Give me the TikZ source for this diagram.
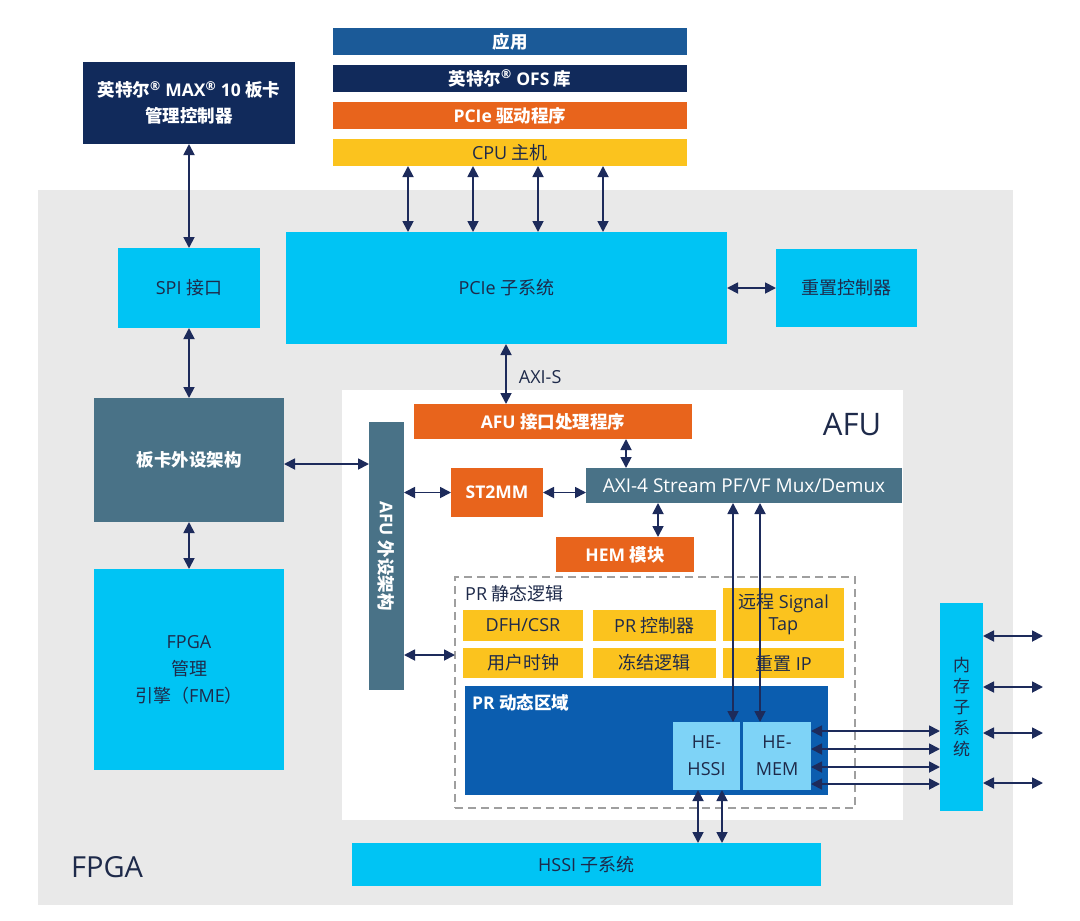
\documentclass[tikz,border=0pt]{standalone}
\usepackage{fontspec}
\setmainfont{Open Sans}
\newfontfamily\cjk{Noto Sans CJK SC}
\usetikzlibrary{arrows.meta}
\definecolor{navy}{HTML}{112A5B}
\definecolor{appblue}{HTML}{1B5A98}
\definecolor{iorange}{HTML}{E8641C}
\definecolor{iyellow}{HTML}{FBC31E}
\definecolor{icyan}{HTML}{00C4F4}
\definecolor{steel}{HTML}{497287}
\definecolor{prdblue}{HTML}{0B5DAF}
\definecolor{helight}{HTML}{7ED3F7}
\definecolor{bggray}{HTML}{E9E9E9}
\definecolor{dtext}{HTML}{1E2A4A}
\definecolor{arrowc}{HTML}{1D2B5B}
\begin{document}
\begin{tikzpicture}[x=1pt,y=-1pt,
  box/.style={draw=none,inner sep=0pt,outer sep=0pt,anchor=north west,align=center,
    font=\fontsize{18}{22}\selectfont},
  wb/.style={text=white,font=\bfseries\fontsize{17.5}{22}\selectfont},
  dk/.style={text=dtext},
  arr/.style={line width=1.8pt,draw=arrowc,
    {Triangle[width=11pt,length=11pt]}-{Triangle[width=11pt,length=11pt]}},
  lbl/.style={inner sep=0pt,text=dtext,font=\fontsize{18}{22}\selectfont}]
\useasboundingbox (0,0) rectangle (1080,921);
\fill[white] (0,0) rectangle (1080,921);
% FPGA region
\node[box,fill=bggray,minimum width=975pt,minimum height=715pt] (fpga) at (38,190) {};
\node[anchor=west,inner sep=0pt,text=dtext,font=\fontsize{29}{30}\selectfont] (fpgalbl) at (71,867) {FPGA};
% top
\node[box,wb,fill=navy,minimum width=212pt,minimum height=82pt,font=\bfseries\fontsize{17.5}{26}\selectfont] (max) at (83,62)
  {{\cjk 英特尔}\textsuperscript{®} MAX\textsuperscript{®} 10 {\cjk 板卡}\\{\cjk 管理控制器}};
\node[box,wb,fill=appblue,minimum width=354pt,minimum height=27pt] (app) at (333,28) {\cjk 应用};
\node[box,wb,fill=navy,minimum width=354pt,minimum height=27pt] (ofs) at (333,65) {{\cjk 英特尔}\textsuperscript{®} OFS {\cjk 库}};
\node[box,wb,fill=iorange,minimum width=354pt,minimum height=27pt] (drv) at (333,102) {PCIe {\cjk 驱动程序}};
\node[box,dk,fill=iyellow,minimum width=354pt,minimum height=27pt] (cpu) at (333,139) {CPU {\cjk 主机}};
% FPGA contents
\node[box,dk,fill=icyan,minimum width=441pt,minimum height=112pt] (pcie) at (286,232) {PCIe {\cjk 子系统}};
\node[box,dk,fill=icyan,minimum width=141pt,minimum height=78pt] (rst) at (776,249) {\cjk 重置控制器};
\node[box,dk,fill=icyan,minimum width=142pt,minimum height=80pt] (spi) at (118,248) {SPI {\cjk 接口}};
\node[box,wb,fill=steel,minimum width=190pt,minimum height=124pt] (board) at (94,398) {\cjk 板卡外设架构};
\node[box,dk,fill=icyan,minimum width=190pt,minimum height=201pt,font=\fontsize{18}{27}\selectfont] (fme) at (94,569)
  {FPGA\\{\cjk 管理}\\{\cjk 引擎（}FME{\cjk ）}};
% AFU
\node[box,fill=white,minimum width=561pt,minimum height=430pt] (afu) at (342,390) {};
\node[anchor=center,inner sep=0pt,text=dtext,font=\fontsize{31}{32}\selectfont] (afulbl) at (852,425) {AFU};
\node[box,wb,fill=iorange,minimum width=278pt,minimum height=35pt] (afuh) at (414,404) {AFU {\cjk 接口处理程序}};
\node[box,fill=steel,minimum width=35pt,minimum height=268pt] (afup) at (369,422) {};
\node[rotate=-90,inner sep=0pt,text=white,font=\bfseries\fontsize{17.5}{20}\selectfont] (afuptxt) at (afup.center) {AFU {\cjk 外设架构}};
\node[box,wb,fill=iorange,minimum width=92pt,minimum height=49pt] (st2mm) at (451,468) {ST2MM};
\node[box,fill=steel,text=white,minimum width=316pt,minimum height=35pt,font=\fontsize{19}{22}\selectfont] (axi) at (586,468) {AXI-4 Stream PF/VF Mux/Demux};
\node[box,wb,fill=iorange,minimum width=138pt,minimum height=35pt] (hem) at (556,537) {HEM {\cjk 模块}};
% PR static
\node[box,draw=gray!75,dashed,dash pattern=on 8pt off 5pt,line width=1.4pt,minimum width=400pt,minimum height=231pt] (prs) at (455,577) {};
\node[lbl,anchor=west] (prslbl) at (465,594) {PR {\cjk 静态逻辑}};
\node[box,dk,fill=iyellow,minimum width=120pt,minimum height=31pt] (dfh) at (463,610) {DFH/CSR};
\node[box,dk,fill=iyellow,minimum width=123pt,minimum height=31pt] (prc) at (593,610) {PR {\cjk 控制器}};
\node[box,dk,fill=iyellow,minimum width=121pt,minimum height=53pt] (stap) at (723,588) {{\cjk 远程} Signal\\Tap};
\node[box,dk,fill=iyellow,minimum width=120pt,minimum height=30pt] (uclk) at (463,648) {\cjk 用户时钟};
\node[box,dk,fill=iyellow,minimum width=123pt,minimum height=30pt] (frz) at (593,648) {\cjk 冻结逻辑};
\node[box,dk,fill=iyellow,minimum width=121pt,minimum height=30pt] (rip) at (723,648) {{\cjk 重置} IP};
\node[box,fill=prdblue,minimum width=363pt,minimum height=109pt] (prd) at (465,686) {};
\node[inner sep=0pt,anchor=west,text=white,font=\bfseries\fontsize{17.5}{20}\selectfont] (prdlbl) at (472,703) {PR {\cjk 动态区域}};
\node[box,dk,fill=helight,minimum width=67pt,minimum height=68pt,font=\fontsize{18}{27}\selectfont] (hehssi) at (673,722) {HE-\\HSSI};
\node[box,dk,fill=helight,minimum width=68pt,minimum height=68pt,font=\fontsize{18}{27}\selectfont] (hemem) at (743,722) {HE-\\MEM};
\node[box,dk,fill=icyan,minimum width=43pt,minimum height=208pt,font=\cjk\fontsize{17}{21}\selectfont] (mem) at (940,603) {内\\存\\子\\系\\统};
\node[box,dk,fill=icyan,minimum width=469pt,minimum height=43pt] (hssi) at (352,843) {HSSI {\cjk 子系统}};
% connectors
\draw[arr] ([xshift=75pt]cpu.south west) -- ([xshift=122pt]pcie.north west);
\draw[arr] ([xshift=140pt]cpu.south west) -- ([xshift=187pt]pcie.north west);
\draw[arr] ([xshift=205pt]cpu.south west) -- ([xshift=252pt]pcie.north west);
\draw[arr] ([xshift=270pt]cpu.south west) -- ([xshift=317pt]pcie.north west);
\draw[arr] (pcie.east) -- (rst.west);
\draw[arr] (max.south) -- (spi.north);
\draw[arr] (spi.south) -- (board.north);
\draw[arr] (board.south) -- (fme.north);
\draw[arr] ([yshift=-4pt]board.east) -- ([yshift=-4pt]board.east -| afup.west);
\draw[arr] ([xshift=220pt]pcie.south west) -- ([xshift=92pt]afuh.north west)
  node[pos=0.55,right=12pt,lbl] (axis) {AXI-S};
\draw[arr] (st2mm.west -| afup.east) -- (st2mm.west);
\draw[arr] (st2mm.east) -- (st2mm.east -| axi.west);
\draw[arr] ([xshift=212pt]afuh.south west) -- ([xshift=40pt]axi.north west);
\draw[arr] ([xshift=72pt]axi.south west) -- ([xshift=102pt]hem.north west);
\draw[arr] ([xshift=147pt]axi.south west) -- ([xshift=60pt]hehssi.north west);
\draw[arr] ([xshift=174pt]axi.south west) -- ([xshift=17pt]hemem.north west);
\coordinate (sl) at (455,655);
\draw[arr] (sl -| afup.east) -- (sl);
\foreach \d in {9,27,45,62}{
  \draw[arr] ([yshift=-\d pt]hemem.north east) -- ([yshift=-\d pt]hemem.north east -| mem.west);
}
\coordinate (r1) at (1043,636);
\coordinate (r2) at (1043,687);
\coordinate (r3) at (1043,733);
\coordinate (r4) at (1043,783);
\foreach \r in {r1,r2,r3,r4}{
  \draw[arr] (\r -| mem.east) -- (\r);
}
\draw[arr] ([xshift=25pt]hehssi.south west) -- ([xshift=346pt]hssi.north west);
\draw[arr] ([xshift=49pt]hehssi.south west) -- ([xshift=370pt]hssi.north west);
\end{tikzpicture}
\end{document}
